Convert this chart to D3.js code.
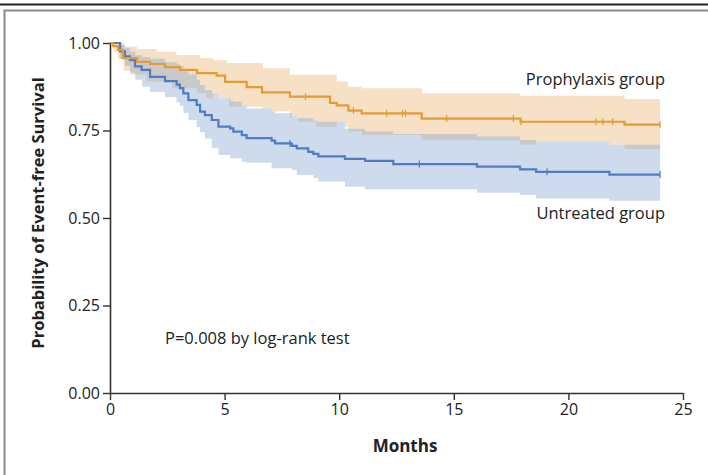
<!DOCTYPE html>
<html>
<head>
<meta charset="utf-8">
<script src="https://cdn.jsdelivr.net/npm/d3@7"></script>
<style>
  body { margin: 0; background: #fff; }
  svg { display: block; font-family: "Open Sans", sans-serif; }
</style>
</head>
<body>
<svg id="chart" width="708" height="475"></svg>
<script>
// ---------- Data (months, probability) ----------
const xTicks = [0, 5, 10, 15, 20, 25];
const yTicks = [0, 0.25, 0.5, 0.75, 1.0];

const prophylaxisCurve = [
    [0, 1.0], [0.14, 0.991], [0.35, 0.98], [0.57, 0.957], [1.18, 0.946], [1.75, 0.94],
    [2.4, 0.931], [3.05, 0.923], [3.8, 0.914], [4.65, 0.907], [5.02, 0.889], [5.96, 0.874],
    [6.63, 0.859], [7.85, 0.847], [9.6, 0.829], [9.89, 0.822], [10.4, 0.807], [10.98, 0.799],
    [13.6, 0.784], [17.91, 0.775], [22.45, 0.767], [24, 0.767]
];
const prophylaxisUpper = [
    [0, 1.0], [0.6, 0.99], [1.18, 0.983], [2.05, 0.975], [2.9, 0.966], [3.93, 0.957],
    [4.5, 0.951], [5.1, 0.943], [6.67, 0.928], [7.85, 0.909], [9.89, 0.89], [10.38, 0.875],
    [11.0, 0.871], [13.6, 0.856], [17.9, 0.849], [22.45, 0.84], [24, 0.84]
];
const prophylaxisLower = [
    [0, 1.0], [0.14, 0.975], [0.35, 0.955], [0.6, 0.92], [0.9, 0.91], [1.6, 0.89],
    [2.7, 0.871], [3.8, 0.857], [4.2, 0.842], [5.2, 0.818], [6.65, 0.805], [7.85, 0.786],
    [8.2, 0.775], [9.0, 0.761], [10.4, 0.747], [11.0, 0.737], [13.6, 0.722], [17.9, 0.709],
    [22.45, 0.697], [24, 0.697]
];
const prophylaxisCensored = [8.53, 10.62, 12.07, 12.77, 12.9, 14.69, 17.6, 17.93, 21.2, 21.5, 21.93, 24];

const untreatedCurve = [
    [0, 1.0], [0.44, 0.976], [0.65, 0.962], [0.87, 0.951], [1.09, 0.933], [1.38, 0.923],
    [1.75, 0.903], [2.4, 0.891], [2.91, 0.881], [3.05, 0.871], [3.2, 0.856], [3.42, 0.837],
    [3.78, 0.823], [3.93, 0.804], [4.14, 0.794], [4.44, 0.78], [4.73, 0.761], [5.24, 0.756],
    [5.38, 0.747], [5.75, 0.737], [5.96, 0.728], [7.05, 0.721], [7.2, 0.713], [7.93, 0.706],
    [8.15, 0.699], [8.65, 0.689], [8.87, 0.683], [9.09, 0.676], [10.25, 0.669], [11.13, 0.663],
    [12.36, 0.654], [16.01, 0.647], [17.89, 0.639], [18.59, 0.632], [21.79, 0.624], [24, 0.624]
];
const untreatedUpper = [
    [0, 1.0], [0.44, 0.995], [0.65, 0.985], [0.87, 0.975], [1.1, 0.965], [1.38, 0.96],
    [1.75, 0.955], [2.4, 0.945], [2.91, 0.94], [3.05, 0.935], [3.2, 0.925], [3.42, 0.91],
    [3.78, 0.895], [3.93, 0.88], [4.14, 0.866], [4.44, 0.856], [4.73, 0.842], [5.24, 0.835],
    [5.38, 0.832], [5.75, 0.822], [5.96, 0.813], [7.05, 0.805], [7.2, 0.799], [7.93, 0.791],
    [8.15, 0.785], [8.87, 0.778], [9.09, 0.775], [10.25, 0.755], [11.13, 0.747], [12.36, 0.74],
    [16.01, 0.733], [17.89, 0.723], [18.59, 0.718], [21.79, 0.709], [24, 0.709]
];
const untreatedLower = [
    [0, 1.0], [0.44, 0.955], [0.65, 0.935], [0.87, 0.915], [1.1, 0.895], [1.4, 0.875],
    [1.75, 0.86], [2.4, 0.845], [2.9, 0.83], [3.05, 0.82], [3.2, 0.8], [3.42, 0.78],
    [3.78, 0.76], [3.93, 0.745], [4.14, 0.727], [4.44, 0.7], [4.73, 0.68], [5.24, 0.671],
    [5.75, 0.661], [5.96, 0.658], [7.05, 0.642], [7.93, 0.637], [8.15, 0.623], [8.87, 0.614],
    [9.09, 0.604], [10.25, 0.589], [11.13, 0.582], [16.01, 0.572], [17.89, 0.566],
    [18.59, 0.556], [21.79, 0.549], [24, 0.549]
];
const untreatedCensored = [7.85, 13.5, 19.07, 24];

// ---------- Layout ----------
const svg = d3.select('#chart');
const x = d3.scaleLinear().domain([0, 25]).range([110, 683]);
const y = d3.scaleLinear().domain([0, 1]).range([393, 43]);

const ORANGE = '#e59a34';
const BLUE = '#4f7cc4';

// frame
svg.append('line').attr('x1', 0).attr('x2', 708).attr('y1', 4.5).attr('y2', 4.5)
    .attr('stroke', '#222').attr('stroke-width', 2);
svg.append('rect').attr('x', 4.5).attr('y', 10.5).attr('width', 720).attr('height', 480)
    .attr('fill', 'none').attr('stroke', '#8a8a8a').attr('stroke-width', 2);

// ---------- Helpers ----------
function stepAt(arr, t) {
    let v = arr[0][1];
    for (const [tt, p] of arr) { if (tt <= t) v = p; else break; }
    return v;
}

function bandData(upper, lower) {
    const times = Array.from(new Set([...upper, ...lower].map(d => d[0]))).sort((a, b) => a - b);
    return times.map(t => ({ t, hi: stepAt(upper, t), lo: stepAt(lower, t) }));
}

const area = d3.area()
    .curve(d3.curveStepAfter)
    .x(d => x(d.t))
    .y0(d => y(d.lo))
    .y1(d => y(d.hi));

const line = d3.line()
    .curve(d3.curveStepAfter)
    .x(d => x(d[0]))
    .y(d => y(d[1]));

// ---------- Bands ----------
const proBand = bandData(prophylaxisUpper, prophylaxisLower);
const untBand = bandData(untreatedUpper, untreatedLower);

svg.append('path').datum(proBand).attr('d', area).attr('fill', '#f6e1c6');
svg.append('path').datum(untBand).attr('d', area).attr('fill', '#cedbed');

// overlap of the two bands
const allTimes = Array.from(new Set([...proBand, ...untBand].map(d => d.t))).sort((a, b) => a - b);
const overlap = allTimes.map(t => ({
    t,
    hi: Math.min(stepAt(prophylaxisUpper, t), stepAt(untreatedUpper, t)),
    lo: Math.max(stepAt(prophylaxisLower, t), stepAt(untreatedLower, t))
}));
svg.append('path').datum(overlap)
    .attr('d', area.defined(d => d.hi > d.lo))
    .attr('fill', '#c9c9c9');

// ---------- Curves ----------
function drawCurve(curve, censored, color) {
    svg.append('path').datum(curve)
        .attr('d', line)
        .attr('fill', 'none')
        .attr('stroke', color)
        .attr('stroke-width', 2.2);
    svg.append('g').selectAll('line')
        .data(censored)
        .join('line')
        .attr('x1', d => x(d)).attr('x2', d => x(d))
        .attr('y1', d => y(stepAt(curve, d)) - 3.5)
        .attr('y2', d => y(stepAt(curve, d)) + 3.5)
        .attr('stroke', color)
        .attr('stroke-width', 1.2);
}
drawCurve(untreatedCurve, untreatedCensored, BLUE);
drawCurve(prophylaxisCurve, prophylaxisCensored, ORANGE);

// ---------- Axes ----------
const xAxis = svg.append('g')
    .attr('transform', `translate(0,${y(0)})`)
    .call(d3.axisBottom(x).tickValues(xTicks).tickSize(7).tickPadding(4).tickSizeOuter(0));
const yAxis = svg.append('g')
    .attr('transform', `translate(${x(0)},0)`)
    .call(d3.axisLeft(y).tickValues(yTicks).tickFormat(d3.format('.2f')).tickSize(7).tickPadding(3).tickSizeOuter(0));

[xAxis, yAxis].forEach(a => {
    a.attr('font-size', null).attr('font-family', null);
    a.select('.domain').attr('stroke', '#333').attr('stroke-width', 1.6);
    a.selectAll('.tick line').attr('stroke', '#333').attr('stroke-width', 1.4);
    a.selectAll('.tick text')
        .attr('fill', '#222')
        .style('font-size', '16px');
});

svg.append('text')
    .attr('x', 405).attr('y', 452)
    .attr('text-anchor', 'middle')
    .style('font-weight', 'bold').style('font-size', '17px')
    .attr('fill', '#222')
    .text('Months');

svg.append('text')
    .attr('transform', 'translate(44,213) rotate(-90)')
    .attr('text-anchor', 'middle')
    .style('font-weight', 'bold').style('font-size', '16.5px')
    .attr('fill', '#222')
    .text('Probability of Event-free Survival');

// ---------- Labels ----------
svg.append('text').attr('x', 665).attr('y', 85).attr('text-anchor', 'end')
    .style('font-size', '16.5px').attr('fill', '#222').text('Prophylaxis group');
svg.append('text').attr('x', 665).attr('y', 219).attr('text-anchor', 'end')
    .style('font-size', '16.5px').attr('fill', '#222').text('Untreated group');
svg.append('text').attr('x', 165).attr('y', 344)
    .style('font-size', '16.5px').attr('fill', '#222').text('P=0.008 by log-rank test');
</script>
</body>
</html>
